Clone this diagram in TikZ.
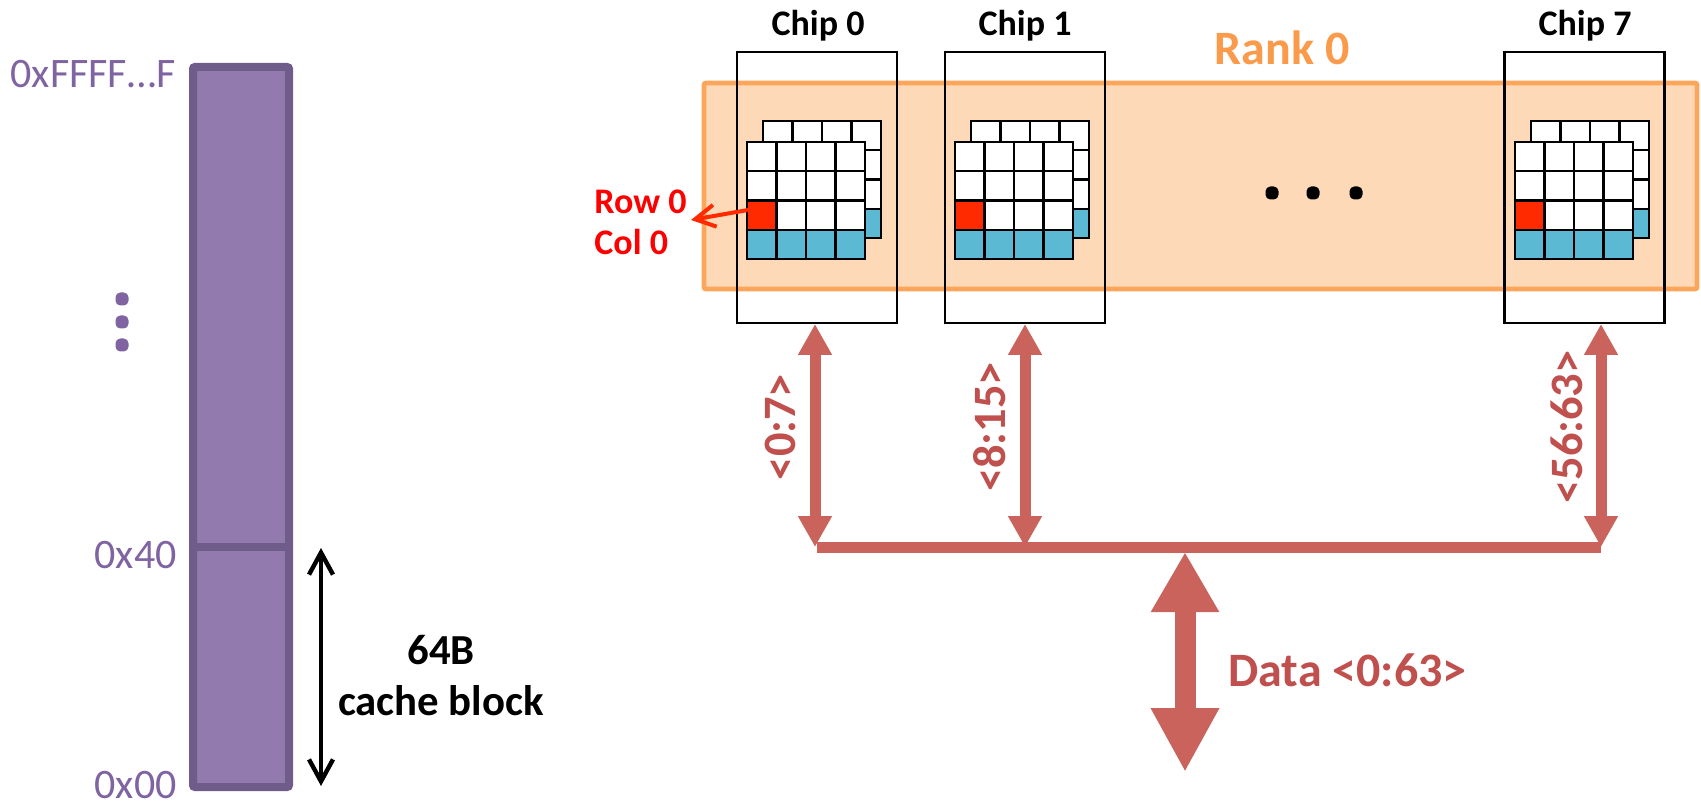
\documentclass[tikz,border=0pt]{standalone}
\usepackage{fontspec}
\setmainfont{Carlito}
\usetikzlibrary{arrows.meta}
\definecolor{purpfill}{HTML}{9279AE}
\definecolor{purpline}{HTML}{705C8A}
\definecolor{purptext}{HTML}{8064A2}
\definecolor{rankfill}{HTML}{FDD9B8}
\definecolor{rankline}{HTML}{FBA65A}
\definecolor{ranktext}{HTML}{FA9B4C}
\definecolor{busred}{HTML}{C9635C}
\definecolor{bustext}{HTML}{C0504D}
\definecolor{cellblue}{HTML}{5BB9D3}
\definecolor{cellred}{HTML}{FF2A00}
\definecolor{rowred}{HTML}{FF0000}
\newcommand{\sz}[1]{\fontsize{#1}{#1}\selectfont}
\tikzset{
  x=0.5pt,y=-0.5pt,
  chipbox/.style={draw=black,line width=1.15pt,fill=none,inner sep=0pt,minimum width=80pt,minimum height=135.5pt},
  cellline/.style={draw=black,line width=1.2pt},
  chiplabel/.style={anchor=base,font=\sz{18}\bfseries,text=black,inner sep=0pt},
  addr/.style={anchor=base east,font=\sz{21},text=purptext,inner sep=0pt},
  buslabel/.style={anchor=base,font=\sz{23.2}\bfseries,text=bustext,inner sep=0pt,rotate=90},
  smallbus/.style={draw=busred,line width=5.5pt,{Triangle[length=15.5pt,width=16pt]}-{Triangle[length=15.5pt,width=16pt]}},
  bigbus/.style={draw=busred,line width=10.5pt,{Triangle[length=30pt,width=32pt]}-{Triangle[length=32pt,width=32pt]}},
  dotmark/.style={draw=none,fill=#1,inner sep=0pt,minimum size=6.5pt,rounded corners=2.4pt},
}
\newcommand{\cellarray}[1]{%
\begin{scope}[shift={(#1,0)}]
  % back plane
  \fill[white] (763,121) rectangle (881,238);
  \fill[cellblue] (763,208.75) rectangle (881,238);
  \foreach \i in {0,1,2,3}{\foreach \j in {0,1,2,3}{
    \draw[cellline] ({763+29.5*\i},{121+29.25*\j}) rectangle ++(29.5,29.25);}}
  % front plane
  \fill[white] (747,142) rectangle (865,259);
  \fill[cellblue] (747,229.75) rectangle (865,259);
  \fill[cellred] (747,200.5) rectangle (776.5,229.75);
  \foreach \i in {0,1,2,3}{\foreach \j in {0,1,2,3}{
    \draw[cellline] ({747+29.5*\i},{142+29.25*\j}) rectangle ++(29.5,29.25);}}
\end{scope}}
\begin{document}
\begin{tikzpicture}
\useasboundingbox (0,0) rectangle (1701,807);
% memory bar
\draw[draw=purpline,fill=purpfill,line width=4pt,rounded corners=1pt] (193,67) rectangle (289,787);
\draw[draw=purpline,line width=4pt] (193,547) -- (289,547);
\node[addr] (addrtop) at (176,88) {0xFFFF\ldots F};
\node[addr] (addrforty) at (177,568) {0x40};
\node[addr] (addrzero) at (177,798) {0x00};
\node[dotmark=purptext] (vd1) at (122,299) {};
\node[dotmark=purptext] (vd2) at (122,322) {};
\node[dotmark=purptext] (vd3) at (122,345) {};
\coordinate (blocktop) at (321,548);
\coordinate (blockbot) at (321,786);
\draw[black,line width=2.2pt,line cap=round,{Straight Barb[length=11pt,width=12pt,line width=2.2pt]}-{Straight Barb[length=11pt,width=12pt,line width=2.2pt]}] (blocktop) -- (blockbot);
\node[anchor=base,font=\sz{21.4}\bfseries,inner sep=0pt] (blocksize) at (441,664) {64B};
\node[anchor=base,font=\sz{21.4}\bfseries,inner sep=0pt] (blockname) at (441,715) {cache block};
% rank
\draw[draw=rankline,fill=rankfill,line width=2.4pt,rounded corners=1pt] (704,83) rectangle (1697,289);
\node[anchor=base,font=\sz{24}\bfseries,text=ranktext,inner sep=0pt] (ranklabel) at (1282,65) {Rank 0};
% chips
\node[chipbox] (chipa) at (817,187.5) {};
\node[chipbox] (chipb) at (1025,187.5) {};
\node[chipbox] (chipc) at (1584.5,187.5) {};
\node[chiplabel] (chipalabel) at (818,36) {Chip 0};
\node[chiplabel] (chipblabel) at (1025,36) {Chip 1};
\node[chiplabel] (chipclabel) at (1585,36) {Chip 7};
\cellarray{0}
\cellarray{208}
\cellarray{768}
\node[dotmark=black] (hd1) at (1272,193) {};
\node[dotmark=black] (hd2) at (1313,193) {};
\node[dotmark=black] (hd3) at (1356,193) {};
% row/col
\node[anchor=base west,font=\sz{18}\bfseries,text=rowred,inner sep=0pt] (rowlabel) at (594,214) {Row 0};
\node[anchor=base west,font=\sz{18}\bfseries,text=rowred,inner sep=0pt] (collabel) at (594,255) {Col 0};
\coordinate (cellpt) at (748,210);
\coordinate (rowpt) at (691,220);
\draw[cellred,line width=2pt,line cap=round,-{Straight Barb[length=10pt,width=11pt,line width=2pt]}] (cellpt) -- (rowpt);
% bus
\coordinate (taba) at (815,324);
\coordinate (tabb) at (1025,324);
\coordinate (tabc) at (1601,324);
\coordinate (busa) at (815,547);
\coordinate (busb) at (1025,547);
\coordinate (busc) at (1601,547);
\coordinate (busl) at (817,547);
\coordinate (busr) at (1601,547);
\coordinate (bigtop) at (1185,552);
\coordinate (bigbot) at (1185,772);
\draw[busred,line width=5.5pt] (busl) -- (busr);
\draw[smallbus] (taba) -- (busa);
\draw[smallbus] (tabb) -- (busb);
\draw[smallbus] (tabc) -- (busc);
\draw[bigbus] (bigtop) -- (bigbot);
\node[buslabel] (laba) at (795,427) {<0:7>};
\node[buslabel] (labb) at (1005,427) {<8:15>};
\node[buslabel] (labc) at (1582,427) {<56:63>};
\node[anchor=base west,font=\sz{24}\bfseries,text=bustext,inner sep=0pt] (datalabel) at (1228,686) {Data <0:63>};
\end{tikzpicture}
\end{document}
